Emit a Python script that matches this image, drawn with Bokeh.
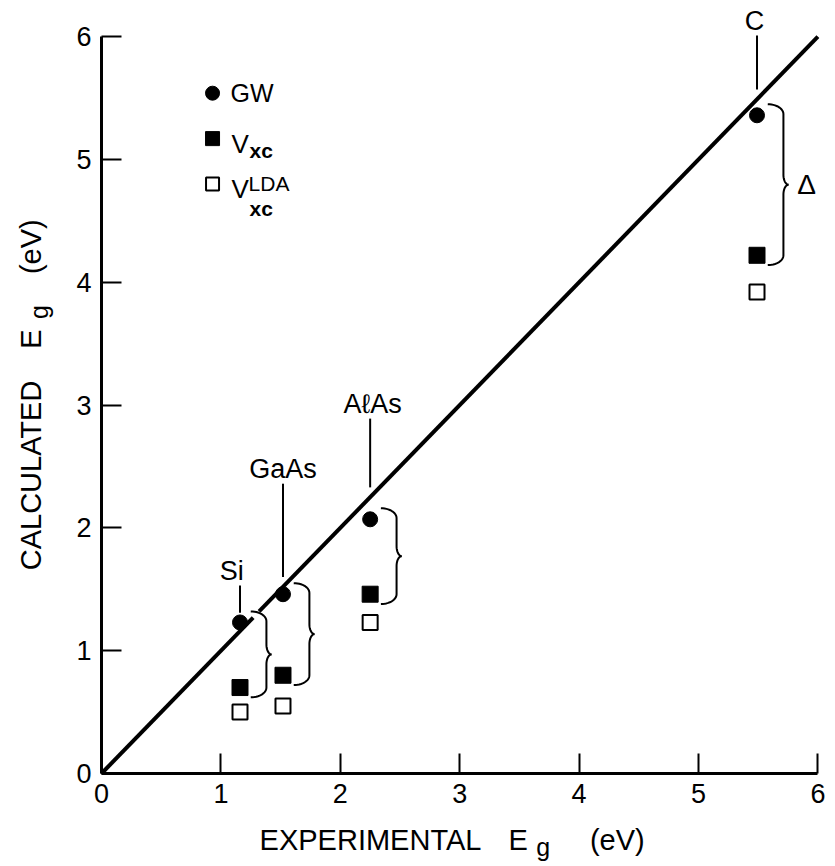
import numpy as np
from bokeh.plotting import figure
from bokeh.models import Range1d, Label, FixedTicker, ColumnDataSource, LinearAxis
from bokeh.core.properties import value
from bokeh.embed import file_html
from bokeh.resources import INLINE

# ---------------- data ----------------
materials = ["Si", "GaAs", "AℓAs", "C"]
exp_gap = [1.16, 1.52, 2.25, 5.49]      # experimental Eg (eV)
gw_gap = [1.23, 1.46, 2.07, 5.36]       # GW
vxc_gap = [0.70, 0.80, 1.46, 4.22]      # Vxc
lda_gap = [0.50, 0.55, 1.23, 3.92]      # Vxc LDA
ticks = [0, 1, 2, 3, 4, 5, 6]

# annotation placement (label heights / nudges)
label_y = [1.65, 2.48, 3.01, 6.13]
label_dx = [-0.07, 0.0, 0.02, -0.02]
line_gap = (1.27, 1.32)                  # small break in the y = x line
legend_x = 0.93
legend_y = [5.54, 5.17, 4.80]

FONT = "Liberation Sans"
W, H = 835, 866
ORIGIN_X, ORIGIN_Y = 101, 773            # pixel position of (0, 0)
PX_X, PX_Y = 119.4, 122.8                # pixels per eV

exp = np.array(exp_gap)
gw = np.array(gw_gap)
vxc = np.array(vxc_gap)
lda = np.array(lda_gap)

# frame covers the whole canvas; axes are pinned at x = 0 / y = 0
xr = Range1d(-ORIGIN_X / PX_X, (W - ORIGIN_X) / PX_X)
yr = Range1d(-(H - ORIGIN_Y) / PX_Y, ORIGIN_Y / PX_Y)
p = figure(width=W, height=H, x_range=xr, y_range=yr, output_backend="svg",
           toolbar_location=None, x_axis_location=None, y_axis_location=None)
p.min_border = 0
p.outline_line_color = None
p.xgrid.visible = False
p.ygrid.visible = False
p.background_fill_color = "white"
p.border_fill_color = "white"

xaxis = LinearAxis(fixed_location=0)
yaxis = LinearAxis(fixed_location=0)
for ax in (xaxis, yaxis):
    ax.ticker = FixedTicker(ticks=ticks)
    ax.bounds = (ticks[0], ticks[-1])
    ax.axis_line_width = 3
    ax.axis_line_color = "black"
    ax.major_tick_in = 20
    ax.major_tick_out = 0
    ax.minor_tick_in = 0
    ax.minor_tick_out = 0
    ax.major_tick_line_width = 2
    ax.major_tick_line_color = "black"
    ax.major_label_text_font = FONT
    ax.major_label_text_font_size = "27px"
    ax.major_label_text_color = "black"
    ax.major_label_standoff = 10
p.add_layout(xaxis, "below")
p.add_layout(yaxis, "left")

# y = x reference line (with the small break seen in the original)
lo, hi = ticks[0], ticks[-1]
seg_x = [[lo, line_gap[0]], [line_gap[1], hi]]
p.multi_line(xs=seg_x, ys=seg_x, line_width=4, line_color="black")

# leader lines from material labels
p.segment(x0=exp, y0=np.maximum(gw, exp) + 0.08, x1=exp, y1=np.array(label_y) - 0.12,
          line_width=2, line_color="black")

# curly braces from GW point down to Vxc point
def brace(x0, top, bottom, w, r):
    mid = (top + bottom) / 2.0
    r = min(r, (top - bottom) / 4.0)
    t = np.linspace(0, np.pi / 2, 14)
    xs1 = x0 + 0.75 * w * np.sin(t)
    ys1 = top - r + r * np.cos(t)
    xs2 = x0 + w - 0.25 * w * np.cos(t)
    ys2 = mid + r - r * np.sin(t)
    ux = np.concatenate([xs1, xs2])
    uy = np.concatenate([ys1, ys2])
    lx = ux[::-1]
    ly = 2 * mid - uy[::-1]
    return list(np.concatenate([ux, lx[1:]])), list(np.concatenate([uy, ly[1:]]))

bx, by = [], []
brace_w = 0.175
for e, g, v in zip(exp, gw, vxc):
    xx, yy = brace(e + 0.09, g + 0.09, v - 0.08, brace_w, 0.08)
    bx.append(xx)
    by.append(yy)
p.multi_line(xs=bx, ys=by, line_width=2, line_color="black")

# data markers
p.scatter(exp, gw, marker="circle", size=15, fill_color="black", line_color="black")
p.scatter(exp, vxc, marker="square", size=16, fill_color="black", line_color="black")
p.scatter(exp, lda, marker="square", size=15, fill_color="white", line_color="black", line_width=2)

# material labels
src = ColumnDataSource(dict(x=exp + np.array(label_dx), y=label_y, t=materials))
p.text(x="x", y="y", text="t", source=src, text_font=value(FONT), text_font_size="27px",
       text_align="center", text_baseline="middle", text_color="black")

def lab(x, y, text, size, dx=0, dy=0, bold=False, align="left", baseline="alphabetic", angle=0):
    p.add_layout(Label(x=x, y=y, x_offset=dx, y_offset=dy, text=text, text_font=FONT,
                       text_font_size=size, text_font_style="bold" if bold else "normal",
                       text_align=align, text_baseline=baseline, text_color="black",
                       angle=angle))

# Delta label next to the diamond's brace
c_mid = (gw[-1] + 0.09 + vxc[-1] - 0.08) / 2.0
lab(exp[-1] + 0.09 + brace_w + 0.15, c_mid, "Δ", "28px", align="center", baseline="middle")

# legend (drawn by hand for the sub/superscripts)
p.scatter([legend_x], [legend_y[0]], marker="circle", size=14, color="black")
p.scatter([legend_x], [legend_y[1]], marker="square", size=14, color="black")
p.scatter([legend_x], [legend_y[2]], marker="square", size=13, fill_color="white",
          line_color="black", line_width=2)

lab(legend_x, legend_y[0], "GW", "25px", dx=18, baseline="middle")
lab(legend_x, legend_y[1], "V", "26px", dx=19, dy=-5)
lab(legend_x, legend_y[1], "xc", "21px", dx=37, dy=-12, bold=True)
lab(legend_x, legend_y[2], "V", "26px", dx=19, dy=-5)
lab(legend_x, legend_y[2], "xc", "21px", dx=37, dy=-24, bold=True)
lab(legend_x, legend_y[2], "LDA", "21px", dx=36, dy=1)

# axis titles (with subscript g), placed by their centres
lab(2.253, -0.54, "EXPERIMENTAL", "29px", align="center", baseline="middle")
lab(3.49, -0.54, "E", "29px", align="center", baseline="middle")
lab(3.70, -0.60, "g", "25px", align="center", baseline="middle")
lab(4.32, -0.54, "(eV)", "29px", align="center", baseline="middle")

lab(-0.59, 2.427, "CALCULATED", "29px", align="center", baseline="middle", angle=np.pi / 2)
lab(-0.59, 3.538, "E", "29px", align="center", baseline="middle", angle=np.pi / 2)
lab(-0.52, 3.758, "g", "25px", align="center", baseline="middle", angle=np.pi / 2)
lab(-0.59, 4.29, "(eV)", "29px", align="center", baseline="middle", angle=np.pi / 2)

open("out.html", "w").write(file_html(p, INLINE))
